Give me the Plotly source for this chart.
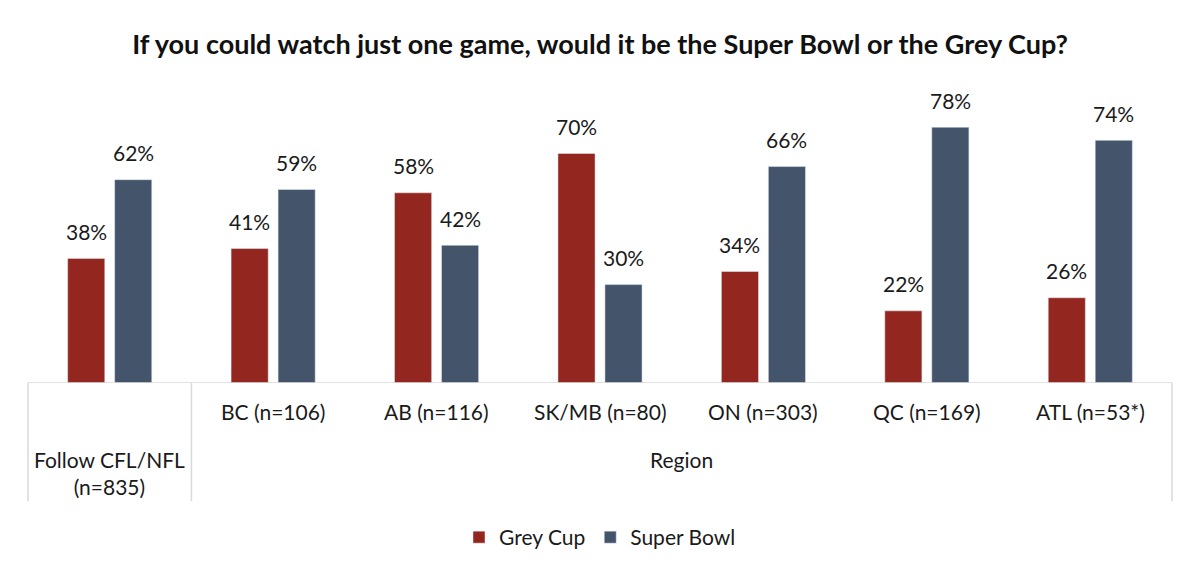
import plotly.graph_objects as go

categories = ["Follow CFL/NFL (n=835)", "BC (n=106)", "AB (n=116)", "SK/MB (n=80)",
              "ON (n=303)", "QC (n=169)", "ATL (n=53*)"]
inner_labels = ["", "BC (n=106)", "AB (n=116)", "SK/MB (n=80)",
                "ON (n=303)", "QC (n=169)", "ATL (n=53*)"]
grey_cup = [38, 41, 58, 70, 34, 22, 26]
super_bowl = [62, 59, 42, 30, 66, 78, 74]
title = "If you could watch just one game, would it be the Super Bowl or the Grey Cup?"
group_total = "Follow CFL/NFL<br>(n=835)"
group_region = "Region"

RED = "#93271F"
BLUE = "#44546A"
FONT = "Lato"
TXT = "#1a1a1a"
FS = 21
BARGAP = 0.425
BARGROUPGAP = 0.21

fig = go.Figure()
fig.add_trace(go.Bar(name="Grey Cup", x=categories, y=grey_cup, marker_color=RED))
fig.add_trace(go.Bar(name="Super Bowl", x=categories, y=super_bowl, marker_color=BLUE))

# data labels placed above bars (offset from group centre derived from bar gaps)
slot = (1 - BARGAP) / 2
for series, sign in [(grey_cup, -1), (super_bowl, 1)]:
    for i, v in enumerate(series):
        fig.add_annotation(x=i + sign * slot / 2, xref="x", y=v, yref="y", yshift=27,
                           text=f"{v}%", showarrow=False, yanchor="middle",
                           font=dict(size=FS, color=TXT, family=FONT))

line_col = "#D9D9D9"
fig.add_shape(type="line", xref="paper", yref="y", x0=0, x1=1, y0=0, y1=0,
              line=dict(color=line_col, width=1.5))
for xp in [0, 1/7, 1]:
    fig.add_shape(type="line", xref="paper", yref="paper", x0=xp, x1=xp, y0=0, y1=-0.39,
                  line=dict(color=line_col, width=1.5))

for c, lab in zip(categories, inner_labels):
    if lab:
        fig.add_annotation(x=c, xref="x", y=0, yref="paper", yshift=-28, text=lab,
                           showarrow=False, font=dict(size=FS, color=TXT, family=FONT),
                           yanchor="middle")
fig.add_annotation(x=categories[0], xref="x", y=0, yref="paper", yshift=-90, text=group_total,
                   showarrow=False, font=dict(size=FS, color=TXT, family=FONT), yanchor="middle")
fig.add_annotation(x=4/7, xref="paper", y=0, yref="paper", yshift=-76, text=group_region,
                   showarrow=False, font=dict(size=FS, color=TXT, family=FONT), yanchor="middle")

fig.update_layout(
    width=1200, height=575,
    margin=dict(l=28, r=28, t=80, b=192),
    paper_bgcolor="white", plot_bgcolor="white",
    title=dict(text=f"<b>{title}</b>", x=0.5, xanchor="center", y=0.922, yanchor="middle",
               font=dict(size=27, color="#111111", family=FONT)),
    barmode="group", bargap=BARGAP, bargroupgap=BARGROUPGAP,
    showlegend=True,
    legend=dict(orientation="h", x=0.5, xanchor="center", y=-0.51, yanchor="middle",
                font=dict(size=FS, color=TXT, family=FONT), itemwidth=30,
                traceorder="normal"),
    xaxis=dict(showticklabels=False, showline=False, showgrid=False, zeroline=False,
               ticks=""),
    yaxis=dict(range=[0, 92.4], visible=False, showgrid=False, zeroline=False),
    font=dict(family=FONT),
)

fig.write_html("out.html")
